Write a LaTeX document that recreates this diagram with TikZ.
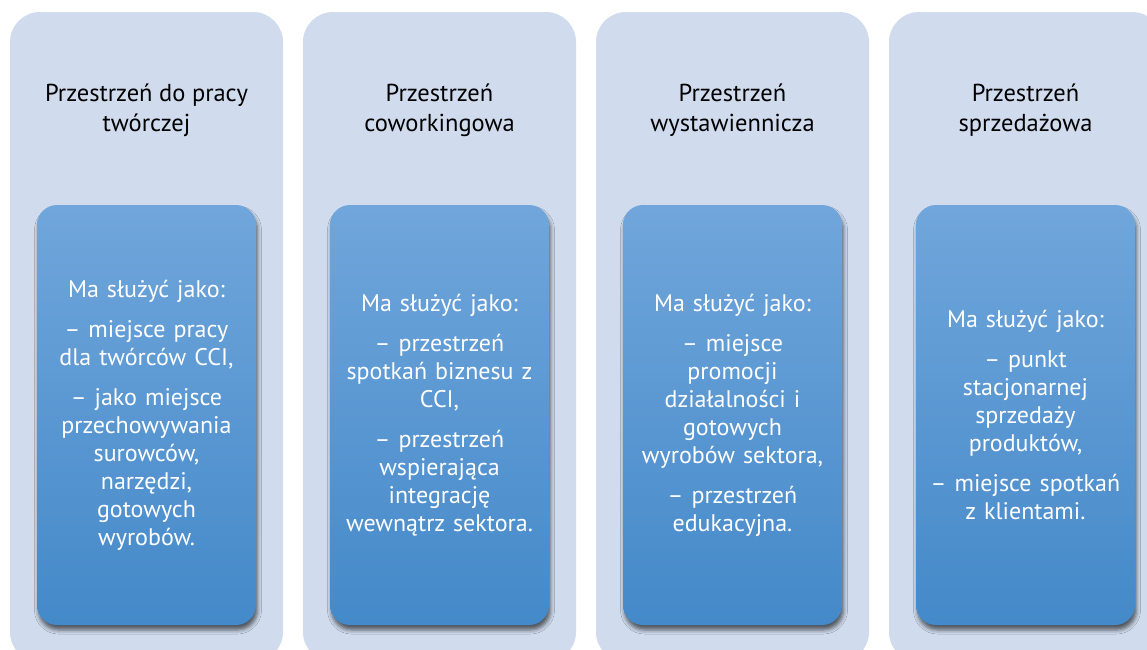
\documentclass[tikz,border=0pt]{standalone}
\usepackage{fontspec}
\setmainfont{PT Sans}
\usetikzlibrary{shadows.blur}
\definecolor{outerfill}{RGB}{208,220,238}
\definecolor{innertop}{RGB}{112,166,219}
\definecolor{innerbot}{RGB}{68,137,201}
\tikzset{
  outerbox/.style={rectangle, rounded corners=30pt, fill=outerfill, minimum width=273pt, minimum height=650pt, inner sep=0pt},
  innerbox/.style={rectangle, rounded corners=20pt, top color=innertop, bottom color=innerbot, minimum width=219pt, minimum height=420pt, inner sep=0pt, text width=214pt, align=center, text=white, font=\fontsize{24}{28}\selectfont,
    blur shadow={shadow xshift=1.5pt, shadow yshift=-5pt, shadow blur radius=4pt, shadow opacity=60}},
  titlelabel/.style={align=center, text=black, font=\fontsize{24.5}{30}\selectfont, inner sep=0pt}
}
\newcommand{\pgap}{\\[12pt]}
\begin{document}
\begin{tikzpicture}[x=1pt,y=-1pt]
\clip (0,0) rectangle (1147,649);
\fill[white] (0,0) rectangle (1147,649);
% columns
\node[outerbox] (o1) at (146.5,337) {};
\node[outerbox] (o2) at (439.5,337) {};
\node[outerbox] (o3) at (732.5,337) {};
\node[outerbox] (o4) at (1025.5,337) {};
% titles
\node[titlelabel] (t1) at (146.5,110) {Przestrzeń do pracy\\twórczej};
\node[titlelabel] (t2) at (439.5,110) {Przestrzeń\\coworkingowa};
\node[titlelabel] (t3) at (732.5,110) {Przestrzeń\\wystawiennicza};
\node[titlelabel] (t4) at (1025.5,110) {Przestrzeń\\sprzedażowa};
% inner boxes
\node[innerbox] (i1) at (146.5,415) {Ma służyć jako:\pgap
– miejsce pracy\\dla twórców CCI,\pgap
– jako miejsce\\przechowywania\\surowców,\\narzędzi,\\gotowych\\wyrobów.};
\node[innerbox] (i2) at (439.5,415) {Ma służyć jako:\pgap
– przestrzeń\\spotkań biznesu z\\CCI,\pgap
– przestrzeń\\wspierająca\\integrację\\wewnątrz sektora.};
\node[innerbox] (i3) at (732.5,415) {Ma służyć jako:\pgap
– miejsce\\promocji\\działalności i\\gotowych\\wyrobów sektora,\pgap
– przestrzeń\\edukacyjna.};
\node[innerbox] (i4) at (1025.5,415) {Ma służyć jako:\pgap
– punkt\\stacjonarnej\\sprzedaży\\produktów,\pgap
– miejsce spotkań\\z klientami.};
\end{tikzpicture}
\end{document}
